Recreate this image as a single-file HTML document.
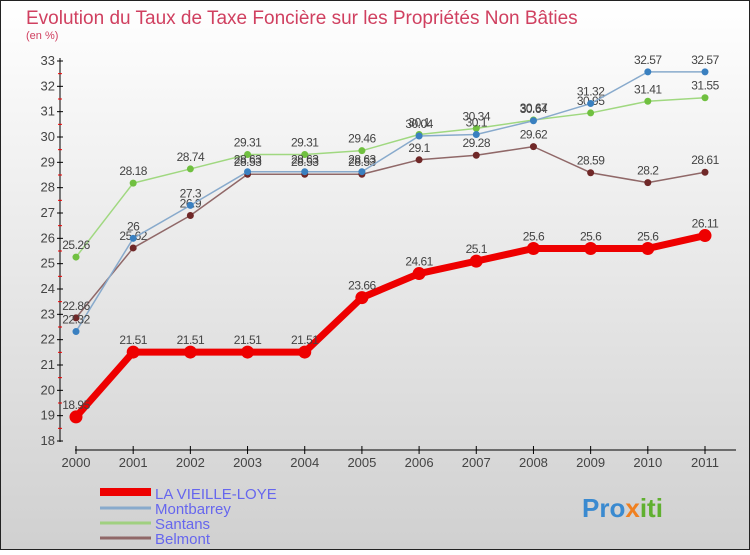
<!DOCTYPE html>
<html><head><meta charset="utf-8"><style>
body{margin:0}
#c{position:relative;width:750px;height:550px;font-family:"Liberation Sans",sans-serif;}
</style></head><body>
<div id="c">
<svg width="750" height="550" xmlns="http://www.w3.org/2000/svg" id="svg">
<defs><linearGradient id="bg" x1="0" y1="0" x2="0" y2="1"><stop offset="0" stop-color="#ffffff"/><stop offset="1" stop-color="#d0d0d0"/></linearGradient></defs>
<rect x="0.5" y="0.5" width="749" height="549" fill="url(#bg)" stroke="#222"/>
<text x="26" y="24" font-size="19" fill="#d04060">Evolution du Taux de Taxe Foncière sur les Propriétés Non Bâties</text>
<text x="26" y="39" font-size="11" fill="#d04060">(en %)</text>
<g id="axes"></g><g id="series"></g>
<g>
<line x1="100" y1="492" x2="151" y2="492" stroke="#ee0000" stroke-width="8"/>
<text x="155" y="499" font-size="15" fill="#6666ee">LA VIEILLE-LOYE</text>
<line x1="100" y1="508" x2="151" y2="508" stroke="#88aacc" stroke-width="3"/>
<text x="155" y="514" font-size="15" fill="#6666ee">Montbarrey</text>
<line x1="100" y1="523" x2="151" y2="523" stroke="#a0d080" stroke-width="3"/>
<text x="155" y="529" font-size="15" fill="#6666ee">Santans</text>
<line x1="100" y1="538" x2="151" y2="538" stroke="#906868" stroke-width="3"/>
<text x="155" y="544" font-size="15" fill="#6666ee">Belmont</text>
</g>
<text x="582" y="517" font-size="26" font-weight="bold" fill="#3a8ad0">Pro<tspan fill="#f08020">x</tspan><tspan fill="#60b030">iti</tspan></text>
</svg>
</div>
<script>
const years=["2000","2001","2002","2003","2004","2005","2006","2007","2008","2009","2010","2011"];
const yTicks=[18,19,20,21,22,23,24,25,26,27,28,29,30,31,32,33];
const laVieilleLoye=[18.95,21.51,21.51,21.51,21.51,23.66,24.61,25.1,25.6,25.6,25.6,26.11];
const montbarrey=[22.32,26,27.3,28.63,28.63,28.63,30.04,30.1,30.64,31.32,32.57,32.57];
const santans=[25.26,28.18,28.74,29.31,29.31,29.46,30.1,30.34,30.67,30.95,31.41,31.55];
const belmont=[22.86,25.62,26.9,28.53,28.53,28.53,29.1,29.28,29.62,28.59,28.2,28.61];
const NS="http://www.w3.org/2000/svg";
const x=i=>76+i*(705-76)/(years.length-1);
const y=v=>441-(v-18)*(441-61)/15;
function mk(t,a,p){const e=document.createElementNS(NS,t);for(const k in a)e.setAttribute(k,a[k]);p.appendChild(e);return e;}
const ax=document.getElementById('axes');
let l=mk('line',{x1:60,y1:58,x2:60,y2:442,stroke:'#000'},ax);


l=mk('line',{x1:75,y1:450,x2:736,y2:450,stroke:'#000'},ax);


yTicks.forEach((v,i)=>{
 mk('line',{x1:57,y1:y(v),x2:63,y2:y(v),stroke:'#000'},ax);
 if(i<yTicks.length-1)mk('line',{x1:58,y1:y(v+0.5),x2:62,y2:y(v+0.5),stroke:'#e00'},ax);
 const t=mk('text',{x:55,y:y(v)+4,'font-size':13,fill:'#444','text-anchor':'end'},ax);t.textContent=v;
 
 
});
years.forEach((yr,i)=>{
 mk('line',{x1:x(i),y1:446,x2:x(i),y2:454,stroke:'#000'},ax);
 const t=mk('text',{x:x(i),y:467,'font-size':13,fill:'#444','text-anchor':'middle'},ax);t.textContent=yr;
 
 
});
const sg=document.getElementById('series');
function draw(name,data,col,w,r,dot){
 const g=mk('g',{},sg);
 
 
 mk('polyline',{points:data.map((v,i)=>x(i)+','+y(v)).join(' '),fill:'none',stroke:col,'stroke-width':w,'stroke-linejoin':'round'},g);
 data.forEach((v,i)=>{
  const c=mk('circle',{cx:x(i),cy:y(v),r:r,fill:dot},g);
  
  
  const t=mk('text',{x:x(i),y:y(v)-8,'font-size':12,fill:'#444','text-anchor':'middle','letter-spacing':'-0.5'},g);t.textContent=v;
 });
}
draw('santans',santans,'#a0d880',1.5,3.5,'#70c040');
draw('belmont',belmont,'#906868',1.5,3.5,'#702828');
draw('montbarrey',montbarrey,'#88aacc',1.5,3.5,'#3a80c0');
draw('la-vieille-loye',laVieilleLoye,'#ee0000',7,6.5,'#ee0000');
</script>
</body></html>
